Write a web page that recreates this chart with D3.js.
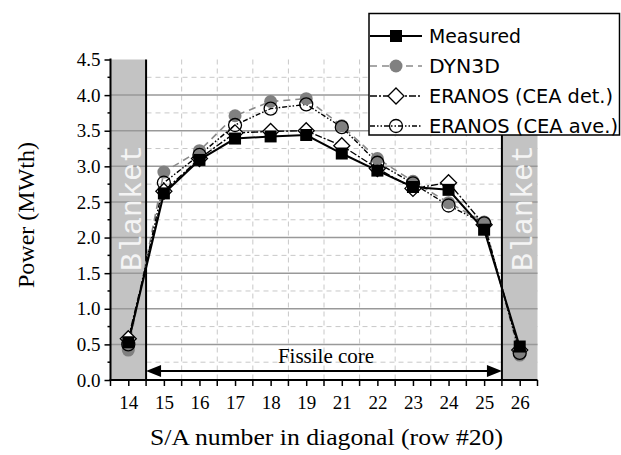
<!DOCTYPE html>
<html><head><meta charset="utf-8">
<script src="https://cdn.jsdelivr.net/npm/d3@7"></script>
<style>body{margin:0;background:#fff}svg{display:block}</style>
</head><body>
<script>
const categories = ["14","15","16","17","18","19","21","22","23","24","25","26"];
const measured   = [0.53,2.62,3.09,3.39,3.42,3.44,3.18,2.94,2.71,2.67,2.11,0.47];
const dyn3d      = [0.42,2.92,3.22,3.71,3.91,3.95,3.57,3.11,2.79,2.49,2.22,0.35];
const eranosDet  = [0.58,2.65,3.11,3.47,3.49,3.50,3.29,2.97,2.69,2.77,2.18,0.42];
const eranosAve  = [0.50,2.77,3.16,3.58,3.81,3.87,3.55,3.05,2.76,2.45,2.20,0.38];
const yTicks = [0,0.5,1,1.5,2,2.5,3,3.5,4,4.5];
const seriesNames = ["Measured","DYN3D","ERANOS (CEA det.)","ERANOS (CEA ave.)"];

const SERIF="Liberation Serif";
const MONO="Liberation Mono";
const SANS="DejaVu Sans";

const W=621,H=455;
const svg=d3.select("body").append("svg").attr("width",W).attr("height",H);
const L=110.5,R=537.5,T=59.5,B=380;
const x=d3.scalePoint().domain(categories).range([L,R]).padding(0.5);
const step=x.step();
const y=d3.scaleLinear().domain([0,4.5]).range([B,T]);

const minorY=d3.range(0.25,4.5,0.5);
svg.append("g").selectAll("line").data(minorY).join("line")
  .attr("x1",L).attr("x2",R).attr("y1",d=>y(d)).attr("y2",d=>y(d))
  .attr("stroke","#c8c8c8").attr("stroke-width",1).attr("stroke-dasharray","5,4");
const midCats=categories.slice(1,10);
svg.append("g").selectAll("line").data(midCats).join("line")
  .attr("x1",d=>x(d)+step/2).attr("x2",d=>x(d)+step/2).attr("y1",T).attr("y2",B)
  .attr("stroke","#c8c8c8").attr("stroke-width",1).attr("stroke-dasharray","5,4");

const bl=[[L,x("14")+step/2],[x("26")-step/2,R]];
svg.append("g").selectAll("rect").data(bl).join("rect")
  .attr("x",d=>d[0]).attr("y",T).attr("width",d=>d[1]-d[0]).attr("height",B-T)
  .attr("fill","#c3c3c3");

svg.append("g").selectAll("line").data(yTicks.filter(d=>d>0&&d<4.5)).join("line")
  .attr("x1",L).attr("x2",R).attr("y1",d=>y(d)).attr("y2",d=>y(d))
  .attr("stroke","#999").attr("stroke-width",1.5);

svg.append("g").selectAll("line").data([bl[0][1],bl[1][0]]).join("line")
  .attr("x1",d=>d).attr("x2",d=>d).attr("y1",T).attr("y2",B)
  .attr("stroke","#000").attr("stroke-width",2);

[[x("14")+13],[x("26")+12]].forEach(([bx])=>{
  svg.append("text").attr("transform",`translate(${bx},208) rotate(-90)`)
    .attr("text-anchor","middle").style("font-family",MONO)
    .attr("font-size",30).attr("fill","#f4f4f4").text("Blanket");
});

const ay=371;
const ax1=bl[0][1], ax2=bl[1][0];
svg.append("line").attr("x1",ax1+12).attr("x2",ax2-12).attr("y1",ay).attr("y2",ay)
  .attr("stroke","#000").attr("stroke-width",2);
svg.append("path").attr("d",`M${ax1},${ay}L${ax1+15},${ay-6}L${ax1+15},${ay+6}Z`).attr("fill","#000");
svg.append("path").attr("d",`M${ax2},${ay}L${ax2-15},${ay-6}L${ax2-15},${ay+6}Z`).attr("fill","#000");
svg.append("text").attr("x",(ax1+ax2)/2+2).attr("y",363).attr("text-anchor","middle")
  .style("font-family",SERIF).attr("font-size",21).text("Fissile core");

const line=d3.line().x((d,i)=>x(categories[i])).y(d=>y(d));
const styles={
  det:{c:"#000",dash:"7,2,2,2",w:1.4},
  dyn:{c:"#8a8a8a",dash:"7,5",w:1.6},
  ave:{c:"#000",dash:"5,2,1.5,2,1.5,2",w:1.4},
  mea:{c:"#000",dash:null,w:2}
};
function drawLine(data,s){
  svg.append("path").datum(data).attr("d",line).attr("fill","none")
    .attr("stroke",s.c).attr("stroke-width",s.w).attr("stroke-dasharray",s.dash);
}
drawLine(eranosDet,styles.det);
drawLine(dyn3d,styles.dyn);
drawLine(eranosAve,styles.ave);
drawLine(measured,styles.mea);

function diamond(g,cx,cy){g.append("path").attr("d",`M${cx},${cy-8}L${cx+8},${cy}L${cx},${cy+8}L${cx-8},${cy}Z`)
  .attr("fill","#fff").attr("stroke","#000").attr("stroke-width",1.3);}
function gcirc(g,cx,cy){g.append("circle").attr("cx",cx).attr("cy",cy).attr("r",6.5).attr("fill","#808080");}
function ocirc(g,cx,cy,fill){g.append("circle").attr("cx",cx).attr("cy",cy).attr("r",6.5).attr("fill",fill).attr("stroke","#000").attr("stroke-width",1.3);}
function sq(g,cx,cy){g.append("rect").attr("x",cx-6).attr("y",cy-6).attr("width",12).attr("height",12).attr("fill","#000");}

const gm=svg.append("g");
eranosDet.forEach((v,i)=>diamond(gm,x(categories[i]),y(v)));
dyn3d.forEach((v,i)=>gcirc(gm,x(categories[i]),y(v)));
eranosAve.forEach((v,i)=>ocirc(gm,x(categories[i]),y(v),"none"));
measured.forEach((v,i)=>sq(gm,x(categories[i]),y(v)));

const yAxis=d3.axisLeft(y).tickValues(yTicks).tickFormat(d3.format(".1f")).tickSize(6).tickPadding(4);
const gy=svg.append("g").attr("transform",`translate(${L},0)`).call(yAxis);
gy.select(".domain").attr("stroke-width",2).attr("d",`M0,${T-1}V${B}`);
gy.selectAll(".tick line").attr("stroke-width",1.5);
gy.selectAll("text").style("font-family",SERIF).attr("font-size",19).attr("fill","#000");
svg.append("g").selectAll("line").data(minorY).join("line")
  .attr("x1",L-3).attr("x2",L).attr("y1",d=>y(d)).attr("y2",d=>y(d)).attr("stroke","#000").attr("stroke-width",1.5);

const xAxis=d3.axisBottom(x).tickSize(6).tickPadding(10);
const gx=svg.append("g").attr("transform",`translate(0,${B})`).call(xAxis);
gx.select(".domain").attr("stroke-width",2).attr("d",`M${L-1},0H${R}`);
gx.selectAll(".tick line").attr("stroke-width",1.5);
gx.selectAll("text").style("font-family",SERIF).attr("font-size",19).attr("fill","#000");
const xMinor=[x(categories[0])-step/2].concat(categories.map(c=>x(c)+step/2));
svg.append("g").selectAll("line").data(xMinor).join("line")
  .attr("x1",d=>d).attr("x2",d=>d)
  .attr("y1",B).attr("y2",B+6).attr("stroke","#000").attr("stroke-width",1.5);

svg.append("text").attr("transform",`translate(34,215) rotate(-90)`).attr("text-anchor","middle")
  .style("font-family",SERIF).attr("font-size",24).text("Power (MWth)");
svg.append("text").attr("x",326.5).attr("y",445).attr("text-anchor","middle")
  .style("font-family",SERIF).attr("font-size",24).attr("textLength",353).attr("lengthAdjust","spacingAndGlyphs")
  .text("S/A number in diagonal (row #20)");

const lg=svg.append("g");
lg.append("rect").attr("x",369).attr("y",13.5).attr("width",250.5).attr("height",121.5)
  .attr("fill","#fff").attr("stroke","#000").attr("stroke-width",1.5);
const rows=[["mea",36],["dyn",66],["det",96],["ave",126]];
rows.forEach(([k,cy],i)=>{
  const s=styles[k];
  const drawL=()=>lg.append("line").attr("x1",370).attr("x2",422).attr("y1",cy).attr("y2",cy)
    .attr("stroke",s.c).attr("stroke-width",s.w).attr("stroke-dasharray",s.dash);
  if(k!=="ave") drawL();
  if(k==="mea") sq(lg,396,cy);
  if(k==="dyn") gcirc(lg,396,cy);
  if(k==="det") diamond(lg,396,cy);
  if(k==="ave") {ocirc(lg,396,cy,"none"); drawL();}
  lg.append("text").attr("x",429).attr("y",cy+7).style("font-family",SANS)
    .attr("font-size",19).attr("textLength",k==="mea"?92:k==="dyn"?71:k==="det"?184:189).attr("lengthAdjust","spacingAndGlyphs")
    .text(seriesNames[i]);
});
</script>
</body></html>
